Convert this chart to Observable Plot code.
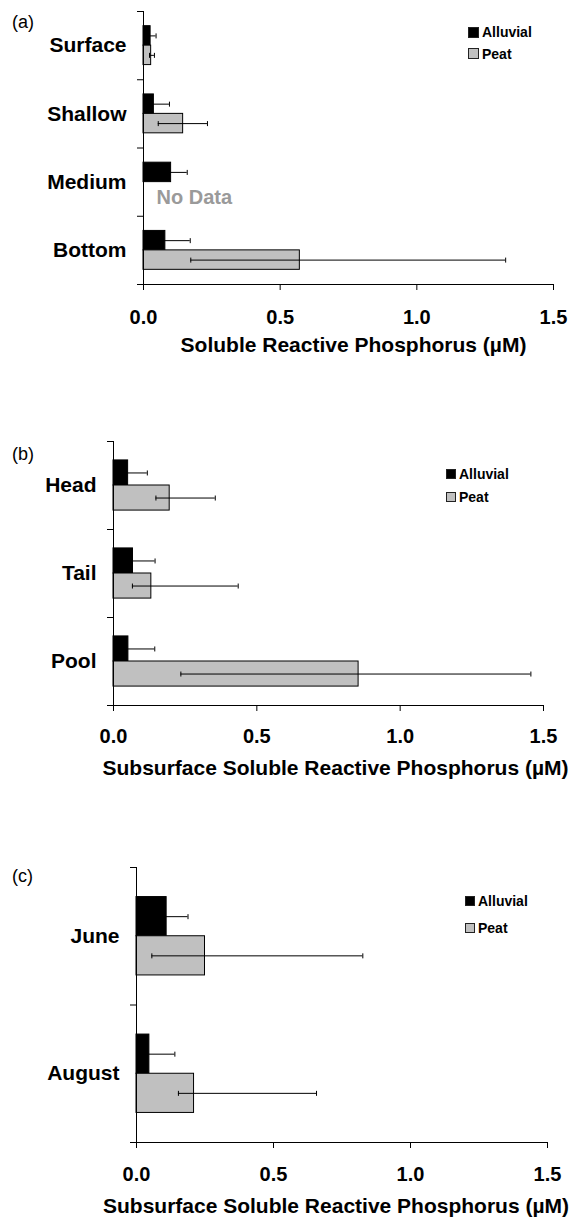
<!DOCTYPE html>
<html>
<head>
<meta charset="utf-8">
<script src="https://cdn.jsdelivr.net/npm/d3@7"></script>
<script src="https://cdn.jsdelivr.net/npm/@observablehq/plot@0.6"></script>
<style>
  html, body { margin: 0; padding: 0; background: #fff; }
  body { width: 571px; font-family: "Liberation Sans", Arial, sans-serif; color: #000; }
  .panel { position: relative; width: 571px; }
  .panel > svg { display: block; }
  .tag { position: absolute; font-size: 18px; line-height: 20px; }
  .leg { position: absolute; display: flex; align-items: center; font-weight: bold; font-size: 14px; line-height: 16px; white-space: nowrap; }
  .leg svg.sw { display: block; flex: 0 0 auto; margin-right: 3px; }
</style>
</head>
<body>
<div id="root"></div>
<script>
// ---------- data ----------
const seriesNames = ["Alluvial", "Peat"];
const seriesColors = ["#000000", "#c0c0c0"];
const xTicks = [0, 0.5, 1.0, 1.5];

// (a)
const catsA = ["Surface", "Shallow", "Medium", "Bottom"];
const alluvialA     = [0.026, 0.038, 0.101, 0.080];
const alluvialLowA  = [0.006, 0.000, 0.042, 0.000];
const alluvialHighA = [0.046, 0.095, 0.160, 0.171];
const peatA     = [0.028, 0.145, null, 0.572];
const peatLowA  = [0.022, 0.054, null, 0.173];
const peatHighA = [0.040, 0.234, null, 1.325];
const titleA = "Soluble Reactive Phosphorus (\u00b5M)";

// (b)
const catsB = ["Head", "Tail", "Pool"];
const alluvialB     = [0.051, 0.068, 0.052];
const alluvialLowB  = [0.000, 0.000, 0.000];
const alluvialHighB = [0.118, 0.145, 0.144];
const peatB     = [0.196, 0.132, 0.855];
const peatLowB  = [0.148, 0.066, 0.235];
const peatHighB = [0.355, 0.435, 1.456];
const titleB = "Subsurface Soluble Reactive Phosphorus (\u00b5M)";

// (c)
const catsC = ["June", "August"];
const alluvialC     = [0.110, 0.047];
const alluvialLowC  = [0.032, 0.000];
const alluvialHighC = [0.188, 0.140];
const peatC     = [0.250, 0.210];
const peatLowC  = [0.056, 0.153];
const peatHighC = [0.826, 0.657];
const titleC = "Subsurface Soluble Reactive Phosphorus (\u00b5M)";

// ---------- drawing ----------
const FONT = "'Liberation Sans', Arial, sans-serif";
const BAR = 0.285; // bar thickness as a fraction of a category band

const capSymbol = {
  draw(context, size) {
    const r = Math.sqrt(size / Math.PI);
    context.moveTo(0, -r);
    context.lineTo(0, r);
  }
};

function panel(cfg) {
  const {cats, alluvial, alluvialLow, alluvialHigh, peat, peatLow, peatHigh, title,
         height, marginTop, marginBottom, marginLeft, marginRight, tickPadding, titleDy, titleDx,
         tag, tagTop, legLeft, legTops, swatch} = cfg;
  const n = cats.length;
  const rows = [];
  cats.forEach((c, i) => {
    rows.push({cat: c, i, s: 0, series: seriesNames[0], value: alluvial[i], low: alluvialLow[i], high: alluvialHigh[i]});
    rows.push({cat: c, i, s: 1, series: seriesNames[1], value: peat[i], low: peatLow[i], high: peatHigh[i]});
  });
  const valid = rows.filter(d => d.value != null);
  const missing = rows.filter(d => d.value == null);
  const caps = valid.flatMap(d => [{...d, cx: d.low}, {...d, cx: d.high}]);
  const y1 = d => d.i + 0.5 + (d.s - 1) * BAR;
  const y2 = d => d.i + 0.5 + d.s * BAR;
  const ym = d => d.i + 0.5 + (d.s - 0.5) * BAR;

  const svg = Plot.plot({
    width: 571, height, marginTop, marginBottom, marginLeft, marginRight,
    style: {fontFamily: FONT, color: "#000", background: "#fff", overflow: "visible"},
    x: {domain: [0, 1.5]},
    y: {domain: [0, n], reverse: true},
    color: {domain: seriesNames, range: seriesColors},
    marks: [
      Plot.rect(valid, {x1: d => 0, x2: "value", y1, y2, fill: "series", stroke: "#000", strokeWidth: 1}),
      Plot.ruleY(valid, {y: ym, x1: "low", x2: "high", stroke: "#000", strokeWidth: 1}),
      Plot.dot(caps, {x: "cx", y: ym, symbol: capSymbol, r: 2.5, stroke: "#000", fill: "none", strokeWidth: 1}),
      Plot.text(missing, {x: d => 0, y: ym, text: () => "No Data", textAnchor: "start", dx: 13, dy: 6,
        fill: "#9a9a9a", fontWeight: "bold", fontSize: 20}),
      Plot.ruleX([0], {stroke: "#000"}),
      Plot.ruleY([n], {stroke: "#000"}),
      Plot.axisY({ticks: d3.range(n + 1), tickSize: 6, tickFormat: () => "", label: null}),
      Plot.axisY({ticks: cats.map((_, i) => i + 0.5), tickSize: 0, tickPadding: 17,
        tickFormat: v => cats[Math.floor(v)], fontSize: 21, fontWeight: "bold", label: null}),
      Plot.axisX({ticks: xTicks, tickSize: 6, tickPadding, tickFormat: d3.format(".1f"),
        fontSize: 20, fontWeight: "bold", label: null}),
      Plot.text([title], {frameAnchor: "bottom", text: d => d, dy: titleDy, dx: titleDx,
        lineAnchor: "middle", fontSize: 21, fontWeight: "bold"})
    ]
  });

  const div = document.createElement("div");
  div.className = "panel";
  div.style.height = height + "px";
  div.appendChild(svg);

  const t = document.createElement("div");
  t.className = "tag";
  t.style.left = "12px";
  t.style.top = tagTop + "px";
  t.textContent = tag;
  div.appendChild(t);

  const NS = "http://www.w3.org/2000/svg";
  seriesNames.forEach((name, k) => {
    const item = document.createElement("div");
    item.className = "leg";
    item.style.left = legLeft + "px";
    item.style.top = (legTops[k] - 8) + "px";
    const sw = document.createElementNS(NS, "svg");
    sw.setAttribute("class", "sw");
    sw.setAttribute("width", swatch);
    sw.setAttribute("height", swatch);
    const r = document.createElementNS(NS, "rect");
    r.setAttribute("x", 0.5);
    r.setAttribute("y", 0.5);
    r.setAttribute("width", swatch - 1);
    r.setAttribute("height", swatch - 1);
    r.setAttribute("fill", seriesColors[k]);
    r.setAttribute("stroke", "#222");
    sw.appendChild(r);
    item.appendChild(sw);
    item.appendChild(document.createTextNode(name));
    div.appendChild(item);
  });
  return div;
}

const root = document.getElementById("root");
root.appendChild(panel({
  cats: catsA, alluvial: alluvialA, alluvialLow: alluvialLowA, alluvialHigh: alluvialHighA,
  peat: peatA, peatLow: peatLowA, peatHigh: peatHighA, title: titleA,
  height: 370, marginTop: 11, marginBottom: 86, marginLeft: 143, marginRight: 18,
  tickPadding: 19, titleDy: 61, titleDx: 5,
  tag: "(a)", tagTop: 11.5, legLeft: 468, legTops: [32, 53.5], swatch: 11
}));
root.appendChild(panel({
  cats: catsB, alluvial: alluvialB, alluvialLow: alluvialLowB, alluvialHigh: alluvialHighB,
  peat: peatB, peatLow: peatLowB, peatHigh: peatHighB, title: titleB,
  height: 420, marginTop: 71, marginBottom: 85, marginLeft: 113, marginRight: 28,
  tickPadding: 17, titleDy: 63, titleDx: 7,
  tag: "(b)", tagTop: 74, legLeft: 446, legTops: [103.7, 126.7], swatch: 10
}));
root.appendChild(panel({
  cats: catsC, alluvial: alluvialC, alluvialLow: alluvialLowC, alluvialHigh: alluvialHighC,
  peat: peatC, peatLow: peatLowC, peatHigh: peatHighC, title: titleC,
  height: 430, marginTop: 77, marginBottom: 78, marginLeft: 136, marginRight: 24,
  tickPadding: 18, titleDy: 64, titleDx: -6,
  tag: "(c)", tagTop: 76, legLeft: 465, legTops: [110.7, 138.3], swatch: 10
}));
</script>
</body>
</html>
